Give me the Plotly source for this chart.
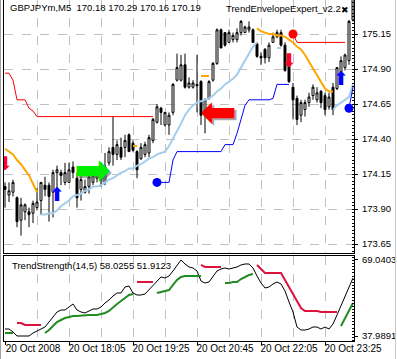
import plotly.graph_objects as go

# ---------------- data ----------------
bars = list(range(88))
opens = [174.06,174.00,174.02,173.98,173.82,173.88,173.88,173.87,173.91,173.96,
         174.07,174.07,174.02,174.16,174.16,174.09,174.09,174.20,174.12,174.04,
         174.02,174.06,174.09,174.12,174.15,174.09,174.23,174.34,174.29,174.34,
         174.34,174.43,174.37,174.31,174.26,174.29,174.30,174.39,174.52,174.62,
         174.50,174.50,174.59,174.82,174.82,174.93,174.77,174.77,174.79,174.81,
         174.57,174.69,174.82,174.94,175.18,175.16,175.09,175.11,175.11,175.16,
         175.16,175.18,175.18,175.08,174.99,175.04,174.98,175.09,175.13,175.16,
         175.07,174.94,174.77,174.69,174.57,174.61,174.66,174.71,174.68,174.74,
         174.71,174.63,174.77,174.76,174.88,174.91,174.96,175.25]
highs = [174.09,174.09,174.11,173.99,173.98,173.94,173.91,173.96,174.05,174.09,
         174.13,174.09,174.18,174.21,174.18,174.23,174.23,174.24,174.16,174.14,
         174.11,174.16,174.16,174.19,174.18,174.30,174.34,174.56,174.39,174.41,
         174.43,174.44,174.39,174.32,174.37,174.38,174.43,174.55,174.65,174.63,
         174.59,174.59,174.80,175.01,175.00,175.01,174.84,174.82,175.00,174.82,
         174.69,174.82,174.95,175.19,175.19,175.16,175.18,175.16,175.19,175.25,
         175.21,175.24,175.19,175.09,175.02,175.05,175.09,175.16,175.18,175.18,
         175.09,174.95,174.80,174.71,174.68,174.68,174.73,174.79,174.77,174.75,
         174.73,174.73,174.80,174.91,174.99,175.01,175.25,175.46]
lows = [173.91,173.95,173.99,173.77,173.71,173.82,173.77,173.80,173.89,173.86,
        173.99,173.81,173.84,174.04,174.07,174.07,174.09,174.12,173.91,173.96,
        174.01,174.01,174.07,174.09,174.06,174.07,174.21,174.21,174.25,174.25,
        174.27,174.31,174.31,174.12,174.25,174.27,174.27,174.37,174.51,174.50,
        174.49,174.43,174.57,174.81,174.81,174.76,174.76,174.76,174.59,174.50,
        174.44,174.68,174.81,174.93,175.05,175.06,175.09,175.09,175.09,175.14,
        175.16,175.16,175.09,174.98,174.93,174.94,174.95,175.09,175.12,175.06,
        174.88,174.80,174.54,174.50,174.52,174.56,174.63,174.68,174.66,174.62,
        174.57,174.61,174.57,174.75,174.87,174.89,174.93,175.24]
closes = [174.04,174.03,174.09,173.81,173.93,173.93,173.86,173.94,173.95,174.09,
          174.04,173.99,174.16,174.18,174.14,174.16,174.18,174.16,173.98,174.11,
          174.06,174.13,174.14,174.16,174.11,174.20,174.31,174.29,174.36,174.27,
          174.39,174.31,174.32,174.18,174.34,174.36,174.41,174.54,174.63,174.59,
          174.59,174.57,174.79,174.91,174.93,174.77,174.80,174.80,174.78,174.57,
          174.68,174.81,174.94,175.18,175.05,175.07,175.16,175.14,175.16,175.24,
          175.20,175.20,175.09,174.99,174.98,174.98,175.07,175.13,175.16,175.07,
          174.89,174.81,174.68,174.54,174.66,174.66,174.70,174.77,174.73,174.66,
          174.61,174.70,174.61,174.91,174.96,175.00,175.24,175.43]

N_ = None
env_red = [174.87,174.87,174.82,174.68,174.68,174.68,174.62,174.60] + [174.56]*30 + [N_]*34 + [175.15] + [175.09]*13 + [N_]*2
env_blue = [N_]*38 + [174.09]*4 + [174.25] + [174.31]*12 + [174.36,174.36,174.36,174.44,174.54,174.64] + [174.68]*6 + [174.69] + [174.79]*4 + [N_]*14 + [174.62,174.77]
band_orange = ([174.33,174.31,174.29,174.25,174.22,174.18,174.14,174.08,174.02] + [N_]*23 + [174.35,174.35] + [N_]*15 +
               [174.85,174.85,174.85] + [N_]*11 +
               [175.19,175.17,175.16,175.15,175.15,175.14,175.14,175.13,175.11,175.09,175.06,175.04,175.00,174.95,174.91,174.86,174.80,174.76,174.74,174.74] + [N_]*5)
band_lblue = ([N_]*9 + [173.86,173.86,173.87,173.87,173.89,173.92,173.94,173.96,173.99,174.00,174.01,174.03,174.04,174.06,174.06,174.07,
               174.09,174.11,174.12,174.14,174.16,174.17,174.19,174.19,174.21,174.22,174.24,174.26,174.27,174.29,174.30,174.31,174.35,174.40,
               174.45,174.51,174.57,174.61,174.64,174.66,174.67,174.68,174.69,174.71,174.74,174.76,174.79,174.81,174.83,174.86,174.91,174.96,
               175.01,175.06,175.09] + [N_]*4 + [175.05,175.05] + [N_]*12 + [174.61,174.64,174.66,174.68,174.70,174.79])

up_x, up_y = [13, 84], [173.99, 174.82]
dn_x, dn_y = [0, 71], [174.21, 174.95]
dot_blue_x, dot_blue_y = [38, 86], [174.09, 174.62]
dot_red_x, dot_red_y = [72], [175.15]
buy_x, buy_y = [21.75], [174.18]
sell_x, sell_y = [53.25], [174.60]

ts_black = [40.85,40.85,39.63,37.99,37.99,37.99,37.99,39.22,40.04,40.85,41.67,43.71,45.76,47.80,48.61,48.61,49.84,51.07,48.61,47.80,
            47.39,48.21,49.02,49.02,49.84,51.47,52.70,54.33,55.56,55.56,58.01,58.42,55.56,54.74,54.74,55.15,56.78,58.42,60.46,62.10,
            61.69,62.50,64.55,67.00,69.04,67.41,66.18,65.77,64.55,60.46,59.64,60.05,62.50,64.55,65.36,65.77,65.36,65.77,66.18,67.00,
            67.41,67.41,65.77,62.50,59.64,57.60,58.01,59.24,60.05,59.24,56.38,51.88,47.80,41.67,40.44,40.44,40.85,41.67,41.67,40.85,
            41.67,40.85,42.90,46.57,50.25,53.93,57.60,61.69]
ts_green = ([39.22,39.22,39.22] + [N_]*7 + [39.22,40.44,42.08,43.71,44.53,45.35,45.76,46.17,46.17,46.37,46.37,46.57,46.57,46.57,46.98,
            47.39,48.21,49.84,51.07,52.29,53.52,54.74,55.15] + [N_]*5 + [55.56,55.97,56.38,56.78,58.83,60.87,62.10,62.50,62.50,62.50,62.50,62.50] +
            [N_]*5 + [59.64,59.64,60.05,60.05,61.28,62.10,62.91,63.32] + [N_]*21 + [42.08,45.35,48.21,51.47])
ts_red = ([N_]*3 + [43.30,43.30,42.49,42.49,42.49,42.49,42.49] + [N_]*23 + [60.05]*5 + [N_]*11 + [67.00] + [66.18]*5 + [N_]*8 +
          [67.00,65.36,63.73,63.73,63.73,63.73,63.73,60.87,58.01,55.15,52.29,49.43,48.21,48.21,48.21,48.21,47.80,47.80,47.80,47.80,47.80] + [N_]*4)

price_ticks = [173.65, 173.90, 174.15, 174.40, 174.65, 174.90, 175.15]
time_tick_bars = [0, 16, 32, 48, 64, 80]
time_tick_text = ["20 Oct 2008", "20 Oct 18:05", "20 Oct 19:25", "20 Oct 20:45", "20 Oct 22:05", "20 Oct 23:25"]
ts_scale = [37.9891, 69.0403]

# ---------------- figure ----------------
W, H = 397, 359
FONT = "Liberation Sans"
fig = go.Figure()

def line(y, color, width, xa="x", ya="y"):
    fig.add_trace(go.Scatter(x=bars, y=y, mode="lines", line=dict(color=color, width=width),
                             connectgaps=False, xaxis=xa, yaxis=ya, hoverinfo="skip", showlegend=False))

line(band_lblue, "#a3cdea", 2)
line(band_orange, "#ffa500", 2)
line(env_red, "#ff0000", 1)
line(env_blue, "#0000ff", 1)

fig.add_trace(go.Candlestick(x=bars, open=opens, high=highs, low=lows, close=closes,
                             increasing=dict(line=dict(color="black", width=1), fillcolor="white"),
                             decreasing=dict(line=dict(color="black", width=1), fillcolor="black"),
                             whiskerwidth=0, showlegend=False, hoverinfo="skip"))

fig.add_trace(go.Scatter(x=dot_blue_x, y=dot_blue_y, mode="markers",
                         marker=dict(color="#0000ff", size=9, line=dict(width=0)), showlegend=False))
fig.add_trace(go.Scatter(x=dot_red_x, y=dot_red_y, mode="markers",
                         marker=dict(color="#ff0000", size=9, line=dict(width=0)), showlegend=False))
fig.add_trace(go.Scatter(x=up_x, y=up_y, mode="text", text=["⬆"] * len(up_x),
                         textfont=dict(family="DejaVu Sans", size=19, color="#0000ff"), showlegend=False))
fig.add_trace(go.Scatter(x=dn_x, y=dn_y, mode="text", text=["⬇"] * len(dn_x),
                         textfont=dict(family="DejaVu Sans", size=19, color="#ff0020"), showlegend=False))
# big signal arrows (shadow + arrow)
for xs, ys, ch, col in [(buy_x, buy_y, "➡", "#00ee00"), (sell_x, sell_y, "⬅", "#ff0000")]:
    for x0, y0 in zip(xs, ys):
        fig.add_annotation(x=x0, y=y0, xref="x", yref="y", text=ch, showarrow=False, xshift=2, yshift=-2,
                           font=dict(family="DejaVu Sans", size=44, color="rgba(90,90,90,0.55)"))
        fig.add_annotation(x=x0, y=y0, xref="x", yref="y", text=ch, showarrow=False,
                           font=dict(family="DejaVu Sans", size=44, color=col))

# indicator window
line(ts_black, "black", 1, "x2", "y2")
line(ts_red, "#dc143c", 2, "x2", "y2")
line(ts_green, "#228b22", 2, "x2", "y2")

grid = dict(showgrid=True, gridcolor="#c0c0c0", griddash="dash", gridwidth=1)
xr = [-0.25, 87.25]
x_dom = [4 / W, 354 / W]
fig.update_layout(
    width=W, height=H, margin=dict(l=0, r=0, t=0, b=0, autoexpand=False),
    paper_bgcolor="white", plot_bgcolor="white", showlegend=False,
    font=dict(family=FONT, size=10, color="black"),
    xaxis=dict(domain=x_dom, range=xr, anchor="y", tickvals=list(range(0, 88, 8)), showticklabels=False,
               ticks="", zeroline=False, showline=True, linecolor="black", linewidth=1, mirror=False,
               automargin=False, rangeslider=dict(visible=False), **grid),
    yaxis=dict(domain=[(H - 253) / H, 1], range=[173.5857, 175.3929], side="right", anchor="x",
               tickvals=price_ticks, ticktext=[f"{v:.2f}" for v in price_ticks], ticks="outside", ticklen=3,
               tickcolor="black", ticklabelstandoff=2, zeroline=False, showline=True, linecolor="black",
               mirror=True, automargin=False, tickfont=dict(size=9.5),
               minor=dict(dtick=0.025, tick0=173.65, ticks="inside", ticklen=2, tickcolor="black", showgrid=False),
               **grid),
    xaxis2=dict(domain=x_dom, range=xr, anchor="y2", tickvals=time_tick_bars, ticktext=time_tick_text,
                ticks="outside", ticklen=3, tickcolor="black", ticklabelshift=28, ticklabelstandoff=-5, tickangle=0,
                zeroline=False, showline=True, linecolor="black", mirror=True, automargin=False,
                minor=dict(tickvals=list(range(0, 88, 8)), showgrid=True, gridcolor="#c0c0c0", griddash="dash", ticks=""),
                showgrid=True, gridcolor="#c0c0c0", griddash="dash", tickfont=dict(size=10)),
    yaxis2=dict(domain=[18 / H, 103 / H], range=[35.95, 70.67], side="right", anchor="x2",
                tickvals=ts_scale, ticktext=[f"{v:.4f}" for v in ts_scale], ticks="outside", ticklen=3,
                tickcolor="black", ticklabelstandoff=2, showgrid=False, zeroline=False, showline=True,
                linecolor="black", mirror=True, automargin=False, tickfont=dict(size=9.5),
                minor=dict(dtick=1.25, tick0=35, ticks="inside", ticklen=2, tickcolor="black", showgrid=False)),
)

# window border lines
fig.add_shape(type="line", xref="paper", yref="paper", x0=0.5 / W, x1=0.5 / W, y0=0, y1=1, line=dict(color="#a0a0a0", width=1))
fig.add_shape(type="line", xref="paper", yref="paper", x0=395.5 / W, x1=395.5 / W, y0=0, y1=1, line=dict(color="#c8c8c8", width=1))

texts = [
    (8, 7, "GBPJPYm,M5  170.18 170.29 170.16 170.19"),
    (224, 9, "TrendEnvelopeExpert_v2.2"),
    (10, 265, "TrendStrength(14,5) 58.0255 51.9123"),
]
for px, py, t in texts:
    fig.add_annotation(x=px / W, y=1 - py / H, xref="paper", yref="paper", text=t, showarrow=False,
                       xanchor="left", yanchor="middle", font=dict(family=FONT, size=9.5, color="black"))
fig.add_annotation(x=345 / W, y=1 - 10 / H, xref="paper", yref="paper", text="✖", showarrow=False,
                   xanchor="center", yanchor="middle", font=dict(family="DejaVu Sans", size=9, color="black"))

fig.write_html("out.html")
